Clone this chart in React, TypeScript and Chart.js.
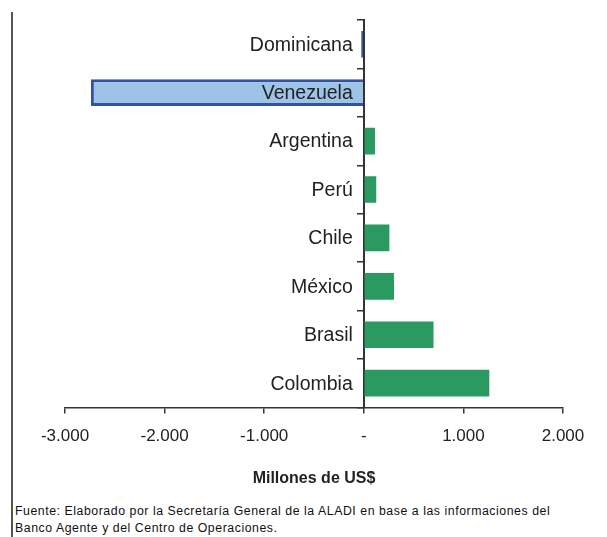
import React, { useEffect, useRef } from "react";
import { Chart, registerables } from "chart.js";

Chart.register(...registerables);

const categories = ["Dominicana", "Venezuela", "Argentina", "Perú", "Chile", "México", "Brasil", "Colombia"];
const values = [-25, -2740, 112, 125, 257, 303, 700, 1260];
const fillColors = ["#3A54A6", "#9DC3E6", "#2A9A60", "#2A9A60", "#2A9A60", "#2A9A60", "#2A9A60", "#2A9A60"];
const borderColors = ["#3A54A6", "#3452A4", "#2A9A60", "#2A9A60", "#2A9A60", "#2A9A60", "#2A9A60", "#2A9A60"];
const borderWidths = [0, 3, 0, 0, 0, 0, 0, 0];
const xMin = -3000;
const xMax = 2000;
const xStep = 1000;
const axisTitle = "Millones de US$";
const footerLines = [
  "Fuente: Elaborado por la Secretaría General de la ALADI en base a las informaciones del",
  "Banco Agente y del Centro de Operaciones.",
];

function formatTick(v: number): string {
  if (v === 0) return "-";
  const s = Math.abs(v).toString().replace(/\B(?=(\d{3})+(?!\d))/g, ".");
  return (v < 0 ? "-" : "") + s;
}

const categoryLabelPlugin = {
  id: "categoryLabels",
  afterDatasetsDraw(chart: any) {
    const { ctx, scales } = chart;
    const xs = scales.x;
    const ys = scales.y;
    const x0 = xs.getPixelForValue(0);
    ctx.save();
    ctx.font = "19.5px 'Liberation Sans', Arial";
    ctx.fillStyle = "#222";
    ctx.textAlign = "right";
    ctx.textBaseline = "middle";
    categories.forEach((c, i) => {
      ctx.fillText(c, x0 - 11, ys.getPixelForValue(i) + 1);
    });
    ctx.restore();
  },
};

export default function App() {
  const canvasRef = useRef<HTMLCanvasElement | null>(null);

  useEffect(() => {
    if (!canvasRef.current) return;
    const chart = new Chart(canvasRef.current, {
      type: "bar",
      data: {
        labels: categories,
        datasets: [
          {
            data: values,
            backgroundColor: fillColors,
            borderColor: borderColors,
            borderWidth: borderWidths,
            barPercentage: 0.55,
            categoryPercentage: 1,
          },
        ],
      },
      plugins: [categoryLabelPlugin],
      options: {
        indexAxis: "y",
        animation: false,
        responsive: false,
        maintainAspectRatio: false,
        layout: { padding: { left: 65, right: 44, top: 20, bottom: 0 } },
        plugins: { legend: { display: false }, tooltip: { enabled: false } },
        scales: {
          x: {
            type: "linear",
            min: xMin,
            max: xMax,
            position: "bottom",
            ticks: {
              stepSize: xStep,
              callback: (v: any) => formatTick(Number(v)),
              font: { family: "Liberation Sans, Arial", size: 17 },
              color: "#222",
              padding: 13,
              maxRotation: 0,
            },
            grid: { drawOnChartArea: false, drawTicks: true, tickLength: 6, color: "#333", lineWidth: 1.5 },
            border: { display: true, color: "#333", width: 1.5 },
            title: {
              display: true,
              text: axisTitle,
              font: { family: "Liberation Sans, Arial", size: 16, weight: "bold" },
              color: "#222",
              padding: { top: 9, bottom: 0 },
            },
          },
          y: {
            type: "category",
            position: { x: 0 } as any,
            ticks: { display: false },
            grid: { drawOnChartArea: false, drawTicks: true, tickLength: 6, color: "#333", lineWidth: 1.5, offset: true },
            border: { display: true, color: "#333", width: 2 },
          },
        },
      },
    });
    return () => chart.destroy();
  }, []);

  return (
    <div style={{ position: "absolute", left: 0, top: 0, width: 607, height: 537, background: "#fff", overflow: "hidden" }}>
      <div style={{ position: "absolute", left: 11, top: 12, width: 2, height: 525, background: "#555" }} />
      <canvas ref={canvasRef} width={607} height={488} style={{ position: "absolute", left: 0, top: 0 }} />
      <div
        style={{
          position: "absolute",
          left: 15,
          top: 503,
          fontFamily: "Liberation Sans, Arial",
          fontSize: 12.3,
          letterSpacing: "0.55px",
          lineHeight: "17px",
          color: "#111",
          whiteSpace: "nowrap",
        }}
      >
        {footerLines.map((l, i) => (
          <div key={i}>{l}</div>
        ))}
      </div>
    </div>
  );
}
